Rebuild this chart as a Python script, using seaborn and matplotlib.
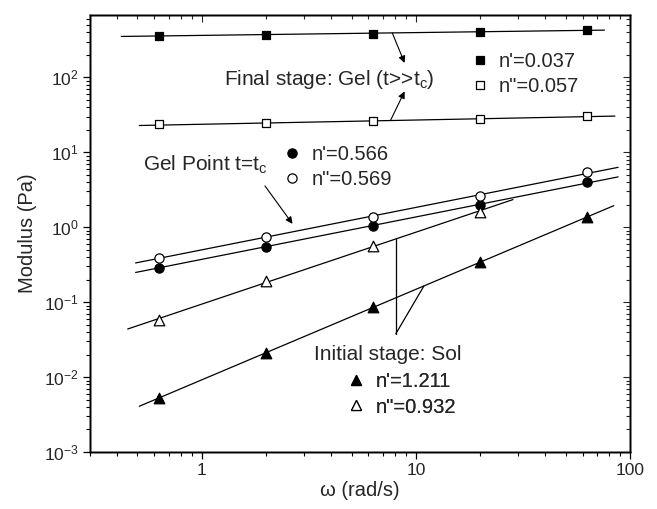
import numpy as np
import pandas as pd
import seaborn as sns
import matplotlib
matplotlib.use("Agg")
import matplotlib.pyplot as plt
from matplotlib.lines import Line2D

# ---------------- data ----------------
omega = [0.628, 1.99, 6.28, 19.9, 62.8]
gel_Gp = [360, 372, 385, 405, 428]          # Final stage G'  (filled squares)
gel_Gpp = [23.5, 24.4, 25.8, 27.6, 30.6]    # Final stage G'' (open squares)
gp_Gp = [0.29, 0.55, 1.05, 1.95, 4.0]       # Gel point G'  (filled circles)
gp_Gpp = [0.39, 0.75, 1.35, 2.65, 5.4]      # Gel point G'' (open circles)
sol_omega_pp = [0.628, 1.99, 6.28, 19.9]
sol_Gpp = [0.058, 0.19, 0.57, 1.6]          # Sol G'' (open triangles)
sol_Gp = [0.0052, 0.021, 0.087, 0.34, 1.35] # Sol G'  (filled triangles)

labels_gel = ["n'=0.037", 'n"=0.057']
labels_gp = ["n'=0.566", 'n"=0.569']
labels_sol = ["n'=1.211", 'n"=0.932']

x_ticks = [1, 10, 100]
x_ticklabels = ["1", "10", "100"]

# ---------------- style ----------------
sns.set_style("ticks")
plt.rcParams["font.family"] = ["Liberation Sans", "DejaVu Sans"]
plt.rcParams["mathtext.fontset"] = "custom"
plt.rcParams["mathtext.rm"] = "Liberation Sans"
plt.rcParams["mathtext.it"] = "Liberation Sans"
plt.rcParams["mathtext.default"] = "regular"
FS_TICK = 12.5
FS_LAB = 14.5
FS_TXT = 15
FS_LEG = 14.5

fig = plt.figure(figsize=(6.57, 5.09), dpi=100)
ax = fig.add_axes([90 / 657, 1 - 452 / 509, 540 / 657, 437 / 509])
ax.set_xscale("log")
ax.set_yscale("log")
XLIM = (0.3, 100)
YLIM = (1e-3, 680)
ax.set_xlim(*XLIM)
ax.set_ylim(*YLIM)


def fit(x, y):
    p = np.polyfit(np.log10(x), np.log10(y), 1)
    return lambda w: 10 ** np.polyval(p, np.log10(w))


# fitted power-law lines with their drawn extents
series = [
    (omega, gel_Gp, (0.42, 76)),
    (omega, gel_Gpp, (0.51, 85)),
    (omega, gp_Gp, (0.49, 88)),
    (omega, gp_Gpp, (0.49, 88)),
    (sol_omega_pp, sol_Gpp, (0.45, 28.4)),
    (omega, sol_Gp, (0.51, 84)),
]
fits = []
for xs, ys, (a, b) in series:
    f = fit(xs, ys)
    fits.append(f)
    ww = np.array([a, b])
    sns.lineplot(x=ww, y=f(ww), ax=ax, color="black", lw=0.9, zorder=2)


def pts(xs, ys, marker, filled, s):
    df = pd.DataFrame({"w": xs, "G": ys})
    sns.scatterplot(data=df, x="w", y="G", ax=ax, marker=marker, s=s,
                    color="black" if filled else "white",
                    edgecolor="black", linewidth=0.9, zorder=3)


S_SQ, S_CI, S_TR = 38, 44, 58
pts(omega, gel_Gp, "s", True, S_SQ)
pts(omega, gel_Gpp, "s", False, S_SQ)
pts(omega, gp_Gp, "o", True, S_CI)
pts(omega, gp_Gpp, "o", False, S_CI)
pts(sol_omega_pp, sol_Gpp, "^", False, S_TR)
pts(omega, sol_Gp, "^", True, S_TR)

# ---------------- axes styling ----------------
ax.set_xticks(x_ticks)
ax.set_xticklabels(x_ticklabels)
ax.tick_params(axis="both", which="major", direction="out", length=5, width=0.9,
               labelsize=FS_TICK, color="black", pad=3)
ax.tick_params(axis="both", which="minor", direction="out", length=2.8, width=0.8,
               color="black")
ax.set_xlabel("ω (rad/s)", fontsize=FS_LAB, labelpad=2)
ax.set_ylabel("Modulus (Pa)", fontsize=FS_LAB, labelpad=5)
for sp in ax.spines.values():
    sp.set_visible(True)
    sp.set_linewidth(1.0)
    sp.set_color("black")

ax_t = ax.twiny()
ax_t.set_xscale("log")
ax_t.set_xlim(*XLIM)
ax_t.set_xticks(x_ticks)
ax_t.tick_params(axis="x", which="both", direction="in", labeltop=False, top=True,
                 bottom=False, width=0.8)
ax_t.tick_params(axis="x", which="major", length=5)
ax_t.tick_params(axis="x", which="minor", length=2.8)
ax_r = ax.twinx()
ax_r.set_yscale("log")
ax_r.set_ylim(*YLIM)
ax_r.tick_params(axis="y", which="both", direction="in", labelright=False, right=True,
                 left=False, width=0.8)
ax_r.tick_params(axis="y", which="major", length=5)
ax_r.tick_params(axis="y", which="minor", length=2.8)
for a in (ax_t, ax_r):
    for sp in a.spines.values():
        sp.set_linewidth(1.0)
        sp.set_color("black")


# ---------------- legends ----------------
def mk(marker, filled, s):
    return Line2D([], [], ls="none", marker=marker, ms=np.sqrt(s),
                  mfc="black" if filled else "white", mec="black", mew=0.9)


leg_kw = dict(frameon=False, fontsize=FS_LEG, handlelength=0.8, handletextpad=0.55,
              labelspacing=0.3, borderaxespad=0, borderpad=0, loc="center left")
leg1 = ax.legend([mk("s", True, S_SQ * 0.75), mk("s", False, S_SQ * 0.75)], labels_gel,
                 bbox_to_anchor=(0.707, 0.864), **leg_kw)
ax.add_artist(leg1)
leg2 = ax.legend([mk("o", True, S_CI), mk("o", False, S_CI)], labels_gp,
                 bbox_to_anchor=(0.36, 0.652), **leg_kw)
ax.add_artist(leg2)
leg3 = ax.legend([mk("^", True, S_TR * 0.8), mk("^", False, S_TR * 0.8)], labels_sol,
                 bbox_to_anchor=(0.4785, 0.1316), **leg_kw)
ax.add_artist(leg3)

# ---------------- annotations ----------------
ax.text(0.639, 0.839, r"Final stage: Gel (t>>t$_\mathregular{c}$)", transform=ax.transAxes,
        fontsize=FS_TXT, ha="right", va="baseline")
ax.text(0.099, 0.643, r"Gel Point t=t$_\mathregular{c}$", transform=ax.transAxes,
        fontsize=FS_TXT, ha="left", va="baseline")
ax.text(0.415, 0.2105, "Initial stage: Sol", transform=ax.transAxes,
        fontsize=FS_TXT, ha="left", va="baseline")

arw = dict(arrowstyle="-|>", color="black", lw=0.8, mutation_scale=10,
           shrinkA=0, shrinkB=0)
ax.annotate("", xy=(8.85, 156), xytext=(7.75, fits[0](7.75)), arrowprops=arw)
ax.annotate("", xy=(8.85, 65), xytext=(7.6, fits[1](7.6)), arrowprops=arw)
ax.annotate("", xy=(2.65, 1.11), xytext=(1.97, 3.56), arrowprops=arw)

# Sol pointer (V shape)
w_v, w_d, y_low = 8.05, 10.9, 0.0378
ax.plot([w_v, w_v], [fits[4](w_v), y_low], color="black", lw=0.9)
ax.plot([w_v, w_d], [y_low, fits[5](w_d)], color="black", lw=0.9)

fig.savefig("out.png", dpi=100)
